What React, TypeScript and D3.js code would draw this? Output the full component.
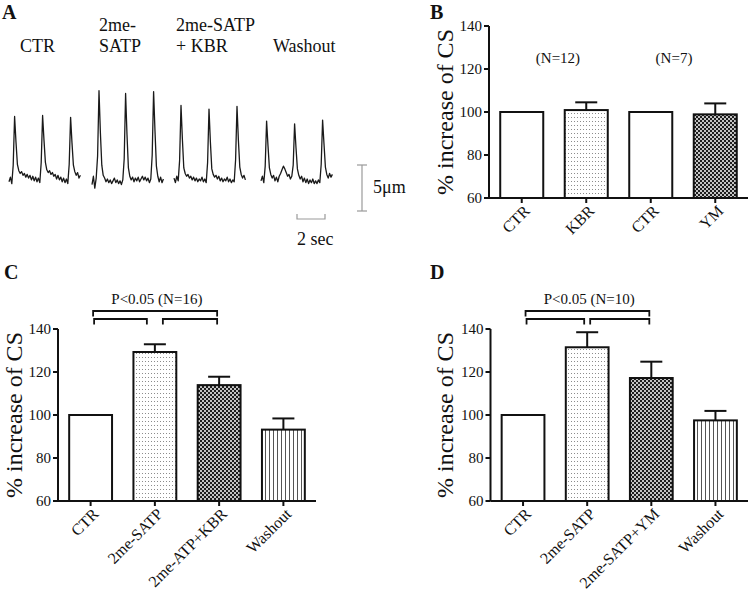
import React from "react";
import * as d3 from "d3";

const FONT = "'Liberation Serif', 'DejaVu Serif', 'Times New Roman', Times, serif";

// ---------- Panel A : cell shortening traces (μm, sampled every 0.1 s) ----------
const traceTitles: string[][] = [["CTR"], ["2me-", "SATP"], ["2me-SATP", "+ KBR"], ["Washout"]];
const sampleStep = 0.1;
const traceCTR = [
  -0.3, 0.2, -0.5, 1.5, 6.8, 4.0, 1.6, 0.9, 0.6, 0.8, 0.4, 0.6, 0.2, 0.5, 0.1, 0.4, -0.1, 0.3, -0.2, 0.2,
  -0.3, 0.1, -0.4, 1.8, 6.9, 4.2, 1.8, 1.0, 0.7, 0.9, 0.5, 0.7, 0.3, 0.5, 0.0, 0.4, -0.1, 0.2, -0.3, 0.1,
  -0.4, 0.0, -0.5, 1.6, 6.7, 3.9, 1.5, 0.8, 0.4, 0.7, 0.1, 0.4,
];
const traceSATP = [
  -0.6, 0.3, -1.0, 0.1, 2.5, 9.6, 5.0, 1.5, 0.4, 0.1, -0.3, 0.0, -0.4, -0.1, -0.5, -0.2, 0.1, -0.4, -0.1, -0.5,
  -0.2, -0.6, -0.1, 2.2, 9.3, 4.8, 1.2, 0.3, -0.1, 0.2, -0.3, 0.1, -0.2, 0.2, -0.3, 0.0, 0.3, -0.1, 0.2, -0.2,
  0.1, -0.4, 0.0, 2.6, 9.5, 5.2, 1.4, 0.3, -0.3, 0.2, -0.4, 0.0,
];
const traceKBR = [
  0.1, -0.4, 0.3, -0.2, 2.0, 8.0, 4.3, 1.2, 0.6, 0.3, 0.5, 0.1, 0.3, -0.1, 0.2, -0.2, 0.1, -0.3, 0.0, -0.2,
  0.2, -0.3, 0.0, -0.4, 1.8, 7.6, 4.0, 1.1, 0.5, 0.2, 0.4, 0.0, 0.3, -0.2, 0.1, -0.3, 0.0, -0.2, 0.2, -0.3,
  0.0, -0.4, -0.1, -0.3, 2.1, 7.9, 4.2, 1.3, 0.5, 0.1, 0.4, -0.1,
];
const traceWash = [
  -0.2, 0.3, -0.4, 1.4, 6.3, 3.6, 1.2, 0.5, 0.1, 0.4, -0.2, 0.2, -0.3, 0.3, 0.6, 1.0, 1.4, 1.1, 0.7, 0.3,
  0.5, 0.0, 0.3, 1.5, 6.0, 3.4, 1.1, 0.4, 0.0, 0.3, -0.3, 0.1, -0.4, 0.0, -0.5, -0.1, -0.4, 0.0, -0.5, -0.2,
  -0.5, -0.1, -0.4, 1.6, 6.4, 3.8, 1.3, 0.5, 0.1, 0.6, 0.2, 0.5,
];
const scaleBarUm = 5;
const scaleBarSec = 2;

// ---------- Panel B ----------
const catB = ["CTR", "KBR", "CTR", "YM"];
const meanB = [100, 100.9, 100, 98.9];
const semB = [0, 3.6, 0, 5.1];
const fillB = ["none", "dots", "none", "check"];
const notesB = ["(N=12)", "(N=7)"];

// ---------- Panel C ----------
const catC = ["CTR", "2me-SATP", "2me-ATP+KBR", "Washout"];
const meanC = [100, 129.3, 113.9, 93.2];
const semC = [0, 3.6, 3.9, 5.2];
const fillC = ["none", "dots", "check", "vlines"];
const noteC = "P<0.05 (N=16)";

// ---------- Panel D ----------
const catD = ["CTR", "2me-SATP", "2me-SATP+YM", "Washout"];
const meanD = [100, 131.5, 117.2, 97.5];
const semD = [0, 7.0, 7.6, 4.4];
const fillD = ["none", "dots", "check", "vlines"];
const noteD = "P<0.05 (N=10)";

const yTicks = [60, 80, 100, 120, 140];
const yLabel = "% increase of CS";

const fillUrl: Record<string, string> = {
  none: "#ffffff",
  dots: "url(#pDots)",
  check: "url(#pCheck)",
  vlines: "url(#pVlines)",
};

// ---------------- Panel A ----------------
const traceSet = [traceCTR, traceSATP, traceKBR, traceWash];
const traceLeft = [9, 92, 174, 261];
const titleX = [20, 99, 176, 273];
const pxPerSec = 14;
const pxPerUm = 9.2;
const baseY = 179;

function PanelA() {
  const y = d3.scaleLinear().domain([0, 1]).range([baseY, baseY - pxPerUm]);
  const umLen = y(0) - y(scaleBarUm);
  const vbX = 362;
  const vbTop = 165;
  const hbY = 219;
  const hbLeft = 297;
  const secScale = d3.scaleLinear().domain([0, 1]).range([hbLeft, hbLeft + pxPerSec]);
  return (
    <g>
      <text x={2} y={18.5} fontWeight="bold" fontSize={20}>A</text>
      {traceTitles.map((lines, k) => (
        <text key={k} fontSize={18}>
          {lines.map((l, j) => (
            <tspan key={j} x={titleX[k]} y={52 - (lines.length - 1 - j) * 21}>{l}</tspan>
          ))}
        </text>
      ))}
      {traceSet.map((vals, k) => {
        const x = d3.scaleLinear().domain([0, 1]).range([traceLeft[k], traceLeft[k] + pxPerSec]);
        const line = d3
          .line<number>()
          .x((_, i) => x(i * sampleStep))
          .y((v) => y(v));
        return (
          <path key={k} d={line(vals) || ""} fill="none" stroke="#1a1a1a" strokeWidth={1.3} strokeLinejoin="round" />
        );
      })}
      <g stroke="#9a9a9a" strokeWidth={1.2} fill="none">
        <line x1={vbX} x2={vbX} y1={vbTop} y2={vbTop + umLen} />
        <line x1={vbX - 5} x2={vbX + 5} y1={vbTop} y2={vbTop} />
        <line x1={vbX - 5} x2={vbX + 5} y1={vbTop + umLen} y2={vbTop + umLen} />
        <path d={`M${secScale(0)},${hbY - 5}V${hbY}H${secScale(scaleBarSec)}V${hbY - 5}`} />
      </g>
      <text x={373} y={193} fontSize={18}>5μm</text>
      <text x={297} y={245} fontSize={18}>2 sec</text>
    </g>
  );
}

// ---------------- Bar panels ----------------
type BarProps = {
  left: number;
  right: number;
  top: number;
  bottom: number;
  cats: string[];
  means: number[];
  sems: number[];
  fills: string[];
  tag: string;
  tagX: number;
  tagY: number;
  labelX: number;
  children?: (x: d3.ScaleBand<number>, y: d3.ScaleLinear<number, number>) => React.ReactNode;
};

function BarPanel(p: BarProps) {
  const idx = d3.range(p.cats.length);
  const x = d3.scaleBand<number>().domain(idx).range([p.left, p.right]).paddingInner(0.333).paddingOuter(0.174);
  const y = d3.scaleLinear().domain([60, 140]).range([p.bottom, p.top]);
  const bw = x.bandwidth();
  const cx = (i: number) => (x(i) as number) + bw / 2;
  const capHalf = 11;
  return (
    <g>
      <text x={p.tagX} y={p.tagY} fontWeight="bold" fontSize={20}>{p.tag}</text>
      <text
        transform={`translate(${p.labelX},${(p.top + p.bottom) / 2}) rotate(-90)`}
        textAnchor="middle"
        fontSize={24}
      >
        {yLabel}
      </text>
      {idx.map((i) => (
        <g key={i}>
          {p.sems[i] > 0 && (
            <g stroke="#111" strokeWidth={2}>
              <line x1={cx(i)} x2={cx(i)} y1={y(p.means[i])} y2={y(p.means[i] + p.sems[i])} />
              <line x1={cx(i) - capHalf} x2={cx(i) + capHalf} y1={y(p.means[i] + p.sems[i])} y2={y(p.means[i] + p.sems[i])} />
            </g>
          )}
          <rect
            x={x(i)}
            y={y(p.means[i])}
            width={bw}
            height={y(60) - y(p.means[i])}
            fill={fillUrl[p.fills[i]]}
            stroke="#111"
            strokeWidth={2}
          />
        </g>
      ))}
      <g stroke="#111" strokeWidth={2}>
        <line x1={p.left} x2={p.left} y1={y(140)} y2={y(60)} />
        {yTicks.map((t) => (
          <line key={t} x1={p.left - 5} x2={p.left} y1={y(t)} y2={y(t)} />
        ))}
        <line x1={p.left} x2={p.right} y1={y(60)} y2={y(60)} />
        {idx.map((i) => (
          <line key={i} x1={cx(i)} x2={cx(i)} y1={y(60)} y2={y(60) + 5} />
        ))}
      </g>
      {yTicks.map((t) => (
        <text key={t} x={p.left - 7} y={y(t)} dy="0.35em" textAnchor="end" fontSize={15}>
          {t}
        </text>
      ))}
      {idx.map((i) => (
        <text
          key={i}
          transform={`translate(${cx(i) + 9},${y(60) + 14}) rotate(-45)`}
          textAnchor="end"
          fontSize={16}
        >
          {p.cats[i]}
        </text>
      ))}
      {p.children && p.children(x, y)}
    </g>
  );
}

function Bracket({ x, note, gap, top }: { x: d3.ScaleBand<number>; note: string; gap: number; top: number }) {
  const bw = x.bandwidth();
  const c = (i: number) => (x(i) as number) + bw / 2;
  const bigY = top - 18;
  const smallY = top - 10;
  const leg = 5.5;
  const a = c(0) + 2.5;
  const b = c(2) - 2;
  return (
    <g>
      <g stroke="#111" strokeWidth={1.8} fill="none">
        <path d={`M${a},${bigY + leg}V${bigY}H${b}V${bigY + leg}`} />
        <path d={`M${a + 1},${smallY + leg}V${smallY}H${c(1) - gap}V${smallY + leg}`} />
        <path d={`M${c(1) + gap},${smallY + leg}V${smallY}H${b}V${smallY + leg}`} />
      </g>
      <text x={(c(0) + c(2)) / 2 + 2} y={top - 25} textAnchor="middle" fontSize={15}>
        {note}
      </text>
    </g>
  );
}

export default function App() {
  const W = 750;
  const H = 599;
  return (
    <svg
      width={W}
      height={H}
      style={{ position: "absolute", left: 0, top: 0, fontFamily: FONT }}
      fill="#111"
    >
      <defs>
        <pattern id="pDots" patternUnits="userSpaceOnUse" width={3} height={4}>
          <rect width={3} height={4} fill="#ffffff" />
          <rect x={1} y={1} width={1} height={1} fill="#8c8c8c" />
        </pattern>
        <pattern id="pCheck" patternUnits="userSpaceOnUse" width={4} height={4}>
          <rect width={4} height={4} fill="#c4c4c4" />
          <rect x={0} y={0} width={2} height={2} fill="#1e1e1e" />
          <rect x={2} y={2} width={2} height={2} fill="#1e1e1e" />
        </pattern>
        <pattern id="pVlines" patternUnits="userSpaceOnUse" width={4} height={4}>
          <rect width={4} height={4} fill="#ffffff" />
          <rect x={1} y={0} width={1} height={4} fill="#555555" />
        </pattern>
      </defs>
      <rect width={W} height={H} fill="#ffffff" />
      <PanelA />
      <BarPanel
        left={489}
        right={748}
        top={26}
        bottom={198}
        cats={catB}
        means={meanB}
        sems={semB}
        fills={fillB}
        tag="B"
        tagX={430}
        tagY={18.5}
        labelX={453}
      >
        {(x) => {
          const bw = x.bandwidth();
          const c = (i: number) => (x(i) as number) + bw / 2;
          const offs = [4, -9];
          return notesB.map((n, k) => (
            <text key={k} x={(c(2 * k) + c(2 * k + 1)) / 2 + offs[k]} y={63} textAnchor="middle" fontSize={15}>
              {n}
            </text>
          ));
        }}
      </BarPanel>
      <BarPanel
        left={58}
        right={316}
        top={329}
        bottom={501}
        cats={catC}
        means={meanC}
        sems={semC}
        fills={fillC}
        tag="C"
        tagX={4}
        tagY={279}
        labelX={22}
      >
        {(x) => <Bracket x={x} note={noteC} gap={8} top={329} />}
      </BarPanel>
      <BarPanel
        left={490.5}
        right={748}
        top={329}
        bottom={501}
        cats={catD}
        means={meanD}
        sems={semD}
        fills={fillD}
        tag="D"
        tagX={430}
        tagY={279}
        labelX={453}
      >
        {(x) => <Bracket x={x} note={noteD} gap={3} top={329} />}
      </BarPanel>
    </svg>
  );
}
